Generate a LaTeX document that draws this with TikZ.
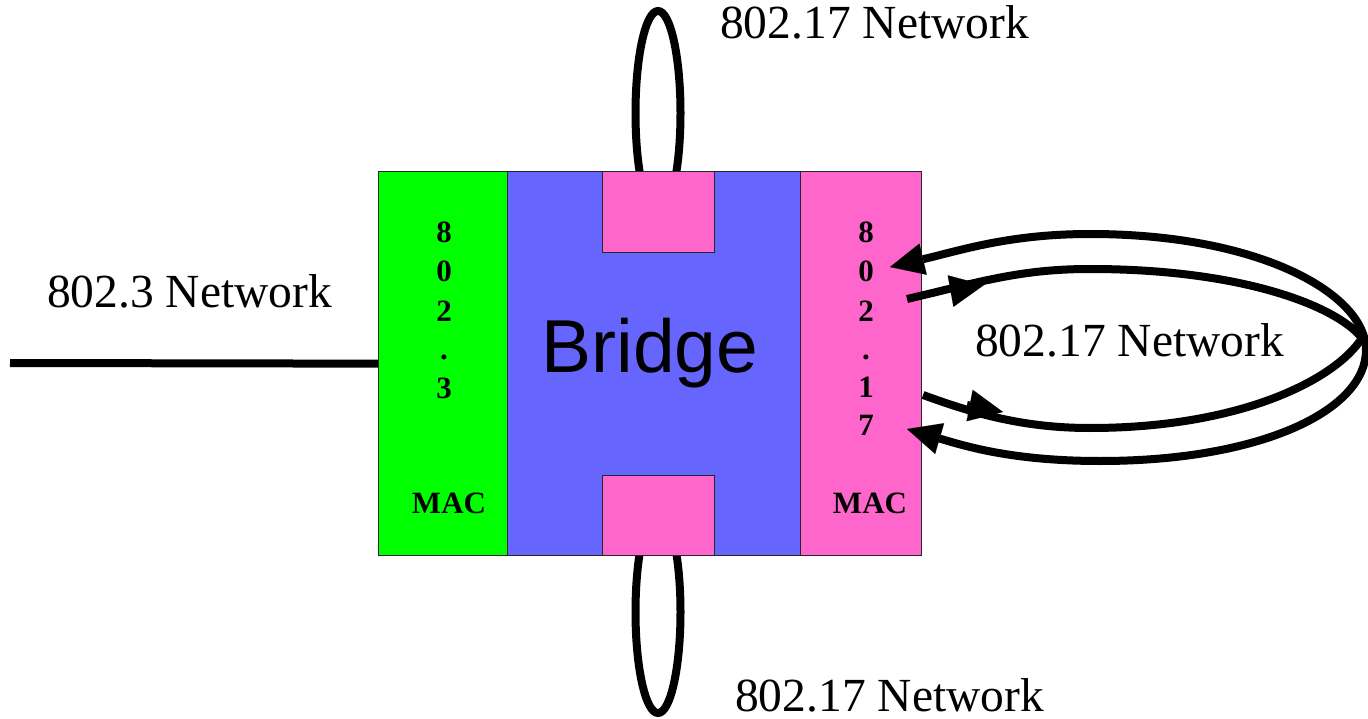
\documentclass[tikz,border=0pt]{standalone}
\usepackage{fontspec}
\setmainfont{Liberation Serif}
\newfontfamily\bridgefont{Liberation Sans}
\usetikzlibrary{arrows.meta}

\definecolor{macgreen}{RGB}{0,255,0}
\definecolor{bridgeblue}{RGB}{102,102,255}
\definecolor{macpink}{RGB}{255,102,204}

\tikzset{
  block/.style={draw=black!85, line width=1.3pt, rectangle, inner sep=0pt,
    anchor=north west, minimum height=384pt},
  netlabel/.style={anchor=base west, inner sep=0pt,
    font=\fontsize{47.5}{57}\selectfont},
  vlabel/.style={anchor=base, inner sep=0pt, align=center,
    font=\fontsize{31}{38.5}\selectfont\bfseries},
  maclabel/.style={anchor=base, inner sep=0pt,
    font=\fontsize{31}{38}\selectfont\bfseries},
  wire/.style={line width=8pt, black},
  tipA/.tip={Triangle[length=34pt, width=32pt, line width=0.1pt]},
  link/.style={line width=8pt, black},
}

\begin{document}
\begin{tikzpicture}[x=1pt, y=-1pt]
  \useasboundingbox (0,0) rectangle (1368,719);

  % ring networks on the two bridge ports
  \draw[wire] (658,113) ellipse [x radius=22.5, y radius=102];
  \draw[wire] (658,612) ellipse [x radius=22.5, y radius=101];

  % bridge body and MAC layers
  \node[block, fill=macgreen, minimum width=129pt] (mac3) at (378,171) {};
  \node[block, fill=bridgeblue, minimum width=293pt] (bridge) at (507,171) {};
  \node[block, fill=macpink, minimum width=121pt] (mac17) at (800,171) {};
  \node[block, fill=macpink, minimum width=112pt, minimum height=81pt] (portTop) at (602,171) {};
  \node[block, fill=macpink, minimum width=112pt, minimum height=80pt] (portBot) at (602,475) {};

  % 802.3 wired network
  \coordinate (lanEnd) at (10,363);
  \draw[wire] (lanEnd) -- (mac3.west);

  % labels inside the boxes
  \node[anchor=base, inner sep=0pt, font=\bridgefont\fontsize{75}{90}\selectfont] (bridgeText) at (650,372) {Bridge};
  \node[vlabel] (d3a) at (444,243) {8};
  \node[vlabel] (d3b) at (444,282) {0};
  \node[vlabel] (d3c) at (444,321) {2};
  \node[vlabel] (d3d) at (444,359) {.};
  \node[vlabel] (d3e) at (444,398) {3};
  \node[maclabel] (macA) at (449,513) {MAC};

  \node[vlabel] (d17a) at (866,243) {8};
  \node[vlabel] (d17b) at (866,282) {0};
  \node[vlabel] (d17c) at (866,321) {2};
  \node[vlabel] (d17d) at (866,359) {.};
  \node[vlabel] (d17e) at (866,397) {1};
  \node[vlabel] (d17f) at (866,435) {7};
  \node[maclabel] (macB) at (870,513) {MAC};

  % network names
  \node[netlabel] (net3) at (47,308) {802.3 Network};
  \node[netlabel] (netTop) at (720,39) {802.17 Network};
  \node[netlabel] (netMid) at (975,356) {802.17 Network};
  \node[netlabel] (netBot) at (735,711) {802.17 Network};

  % dual counter-rotating ring on the 802.17 MAC
  \coordinate (outIn1) at (890,267);
  \coordinate (outIn2) at (907,429);
  \coordinate (inOut1) at (907,299);
  \coordinate (inOut2) at (923,395);

  \draw[link, {tipA}-{tipA}] (outIn1)
     .. controls (962,250) and (1010,234) .. (1090,234)
     .. controls (1262,234) and (1366,295) .. (1366,350)
     .. controls (1366,410) and (1262,461) .. (1100,461)
     .. controls (1012,461) and (965,446) .. (outIn2);

  \draw[link] (inOut1)
     .. controls (980,282) and (1020,269) .. (1090,269)
     .. controls (1240,269) and (1335,305) .. (1362,338)
     .. controls (1335,380) and (1240,428) .. (1090,428)
     .. controls (1020,428) and (970,412) .. (inOut2);

  \coordinate (midA0) at (951,291);
  \coordinate (midA1) at (984,285);
  \coordinate (midB0) at (967,405);
  \coordinate (midB1) at (1003,412);
  \draw[link, -{tipA}] (midA0) -- (midA1);
  \draw[link, -{tipA}] (midB0) -- (midB1);
\end{tikzpicture}
\end{document}
